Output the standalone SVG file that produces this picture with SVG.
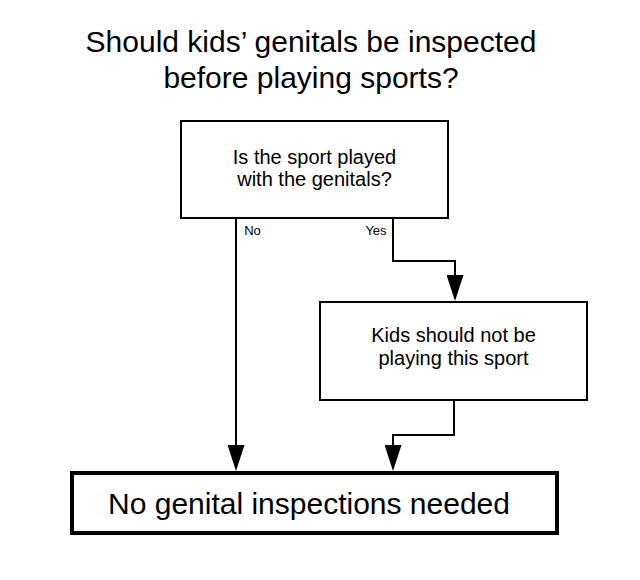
<svg xmlns="http://www.w3.org/2000/svg" width="640" height="580" viewBox="0 0 640 580">
<defs>
<style>
text{font-family:"Liberation Sans",Arial,sans-serif;fill:#000;text-anchor:middle}
.box{fill:#fff;stroke:#000;stroke-width:2}
.final{fill:#fff;stroke:#000;stroke-width:4}
.conn{fill:none;stroke:#000;stroke-width:2}
.t{font-size:20px}
.lbl{font-size:13px}
</style>
<marker id="arr" markerUnits="userSpaceOnUse" viewBox="0 0 26 17" refX="16" refY="8.5" markerWidth="26" markerHeight="17" orient="auto">
<path d="M0,0 L26,8.5 L0,17 Z" fill="#000"/>
</marker>
</defs>
<rect width="640" height="580" fill="#fff"/>
<g id="title">
<text x="311" y="52" font-size="30">Should kids’ genitals be inspected</text>
<text x="311" y="88" font-size="30">before playing sports?</text>
</g>
<g id="connectors">
<path class="conn" d="M236 218 V461" marker-end="url(#arr)"/>
<path class="conn" d="M393 218 V261 H455 V291" marker-end="url(#arr)"/>
<path class="conn" d="M454 400 V435 H393 V461" marker-end="url(#arr)"/>
<text class="lbl" x="252.5" y="235">No</text>
<text class="lbl" x="376" y="235">Yes</text>
</g>
<g id="q1">
<rect class="box" x="181" y="121" width="267" height="97"/>
<text class="t" x="314.5" y="164">Is the sport played</text>
<text class="t" x="314.5" y="186">with the genitals?</text>
</g>
<g id="n2">
<rect class="box" x="320" y="302" width="267" height="98"/>
<text class="t" x="453.5" y="342">Kids should not be</text>
<text class="t" x="453.5" y="365">playing this sport</text>
</g>
<g id="end">
<rect class="final" x="72" y="473" width="485" height="60"/>
<text x="309" y="514" font-size="30">No genital inspections needed</text>
</g>
</svg>
